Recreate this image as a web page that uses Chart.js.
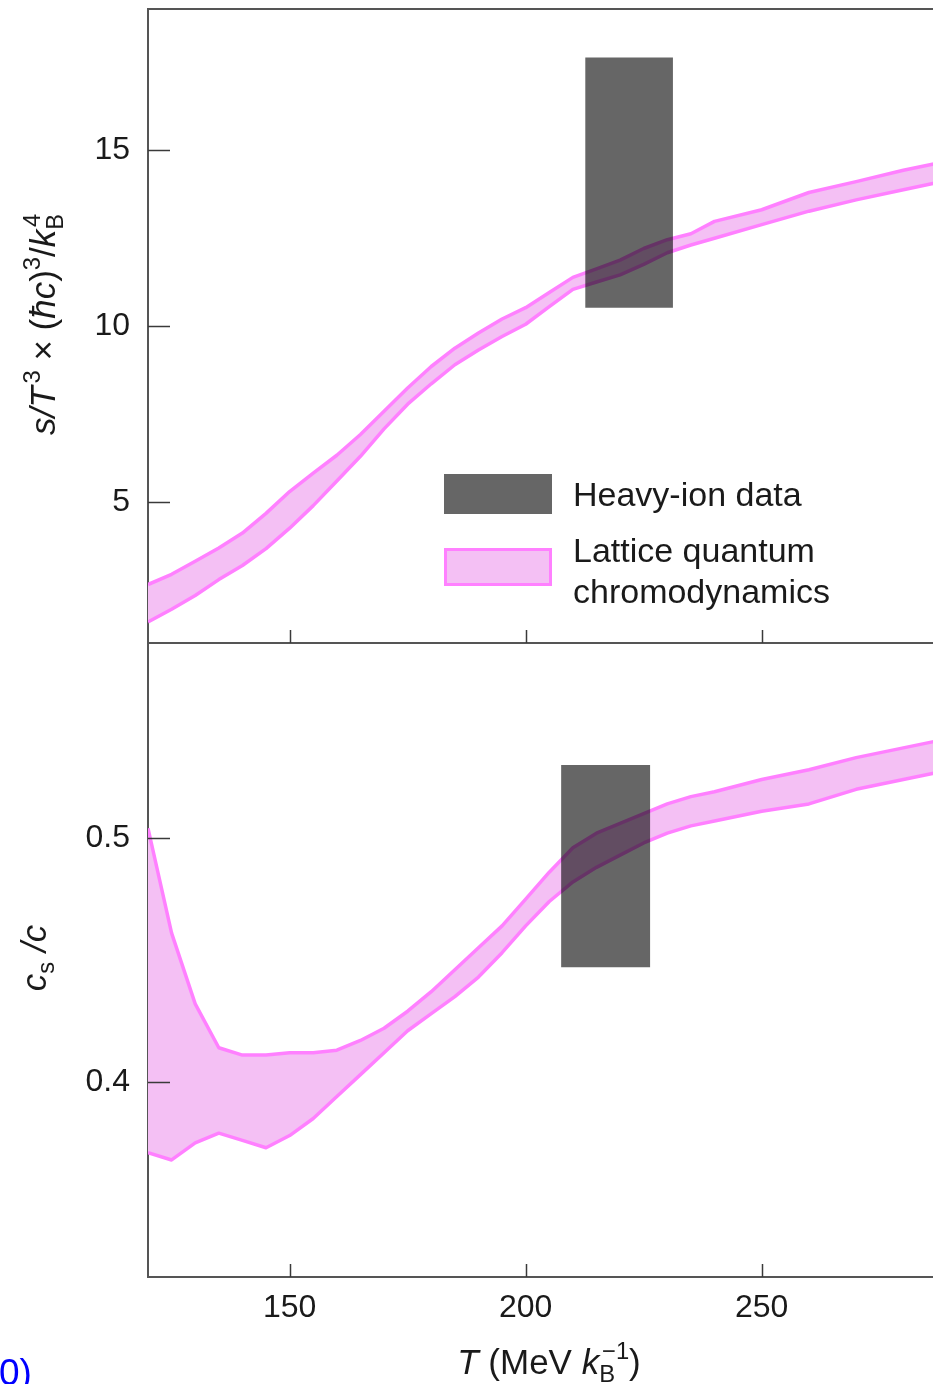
<!DOCTYPE html>
<html>
<head>
<meta charset="utf-8">
<script src="https://cdn.jsdelivr.net/npm/chart.js@4.4.1/dist/chart.umd.min.js"></script>
<style>
  html, body { margin: 0; padding: 0; background: #fff; overflow: hidden; }
  #wrap { position: relative; width: 933px; height: 1384px; overflow: hidden; }
  canvas { position: absolute; left: 0; }
  #top { top: 0; }
  #bottom { top: 640px; }
  #link { position: absolute; left: -1px; top: 1352px; font: 37px "Liberation Sans", Arial, sans-serif; color: #0000ff; }
</style>
</head>
<body>
<div id="wrap">
  <canvas id="top" width="960" height="650"></canvas>
  <canvas id="bottom" width="960" height="744"></canvas>
  <div id="link">0)</div>
</div>
<script>
// temperature grid (MeV / kB)
const temps = [120, 125, 130, 135, 140, 145, 150, 155, 160, 165, 170, 175, 180, 185, 190, 195,
  200, 205, 210, 215, 220, 225, 230, 235, 240, 250, 260, 270, 280, 290];

// lattice QCD band, s/T^3
const entropyUpper = [2.66, 2.95, 3.32, 3.7, 4.12, 4.68, 5.3, 5.82, 6.33, 6.92, 7.58, 8.24, 8.85, 9.37, 9.8, 10.2,
  10.52, 10.95, 11.38, 11.62, 11.87, 12.2, 12.45, 12.62, 12.97, 13.3, 13.79, 14.1, 14.42, 14.7];
const entropyLower = [1.6, 1.96, 2.35, 2.8, 3.2, 3.68, 4.26, 4.9, 5.6, 6.3, 7.08, 7.78, 8.36, 8.9, 9.32, 9.7,
  10.05, 10.55, 11.04, 11.25, 11.45, 11.75, 12.08, 12.3, 12.49, 12.88, 13.26, 13.58, 13.87, 14.15];

// lattice QCD band, cs/c
const soundUpper = [0.504, 0.461, 0.432, 0.414, 0.411, 0.411, 0.412, 0.412, 0.413, 0.417, 0.422, 0.429, 0.437, 0.446, 0.455, 0.464,
  0.475, 0.486, 0.496, 0.502, 0.506, 0.51, 0.514, 0.517, 0.519, 0.524, 0.528, 0.533, 0.537, 0.541];
const soundLower = [0.371, 0.368, 0.375, 0.379, 0.376, 0.373, 0.378, 0.385, 0.394, 0.403, 0.412, 0.421, 0.428, 0.435, 0.443, 0.453,
  0.464, 0.474, 0.482, 0.488, 0.493, 0.498, 0.502, 0.505, 0.507, 0.511, 0.514, 0.52, 0.524, 0.528];

// heavy-ion data boxes: [T min, T max] and [value min, value max]
const heavyIonEntropyT = [212.6, 231.2];
const heavyIonEntropy = [10.52, 17.62];
const heavyIonSoundT = [207.5, 226.4];
const heavyIonSound = [0.447, 0.53];

// ticks
const xTicks = [150, 200, 250];
const entropyTicks = [5, 10, 15];
const soundTicks = [0.4, 0.5];
const soundTickLabels = ['0.4', '0.5'];

const legendLabels = [['Heavy-ion data'], ['Lattice quantum', 'chromodynamics']];

const FONT = '"Liberation Sans", Arial, Helvetica, sans-serif';
const TEXT = '#1a1a1a';
const AXIS = '#555';
const PINK_FILL = '#f4c0f4';
const PINK_LINE = '#ff80ff';
const BOX_FILL = 'rgba(0,0,0,0.6)';

function pts(xs, ys) {
  return xs.map((x, i) => ({x: x, y: ys[i]}));
}

function setFont(ctx, size, italic) {
  ctx.font = (italic ? 'italic ' : '') + size + 'px ' + FONT;
}

// width of one rich-text part (main text + optional sub/sup)
function partWidth(ctx, p, size) {
  setFont(ctx, size, p.i);
  let w = ctx.measureText(p.t).width;
  let sw = 0;
  setFont(ctx, size * 0.68, false);
  if (p.sup) sw = Math.max(sw, ctx.measureText(p.sup).width);
  if (p.sub) sw = Math.max(sw, ctx.measureText(p.sub).width);
  if (sw && p.i) sw += size * 0.08;
  return w + sw;
}

function drawRich(ctx, parts, cx, y, size) {
  let total = 0;
  parts.forEach(p => total += partWidth(ctx, p, size));
  let x = cx - total / 2;
  ctx.fillStyle = TEXT;
  ctx.textBaseline = 'alphabetic';
  ctx.textAlign = 'left';
  parts.forEach(p => {
    setFont(ctx, size, p.i);
    ctx.fillText(p.t, x, y);
    x += ctx.measureText(p.t).width;
    setFont(ctx, size * 0.68, false);
    let sw = 0;
    const supX = x + (p.i ? size * 0.08 : 0);
    if (p.sup) { ctx.fillText(p.sup, supX, y - size * 0.42); sw = Math.max(sw, ctx.measureText(p.sup).width); }
    if (p.sub) { ctx.fillText(p.sub, x, y + size * 0.22); sw = Math.max(sw, ctx.measureText(p.sub).width); }
    if (sw && p.i) sw += size * 0.08;
    x += sw;
  });
}

const tickMarks = {
  id: 'tickMarks',
  afterDraw(chart) {
    const {ctx, chartArea: a, scales} = chart;
    ctx.save();
    ctx.strokeStyle = '#3a3a3a';
    ctx.lineWidth = 1.5;
    scales.y.ticks.forEach(t => {
      const y = Math.round(scales.y.getPixelForValue(t.value)) + 0.5;
      ctx.beginPath(); ctx.moveTo(a.left, y); ctx.lineTo(a.left + 22, y); ctx.stroke();
    });
    scales.x.ticks.forEach(t => {
      const x = Math.round(scales.x.getPixelForValue(t.value)) + 0.5;
      ctx.beginPath(); ctx.moveTo(x, a.bottom); ctx.lineTo(x, a.bottom - 13); ctx.stroke();
    });
    ctx.restore();
  }
};

const topDecor = {
  id: 'topDecor',
  afterDraw(chart) {
    const {ctx, chartArea: a} = chart;
    ctx.save();
    // top frame line
    ctx.strokeStyle = AXIS;
    ctx.lineWidth = 2;
    ctx.beginPath(); ctx.moveTo(a.left, a.top); ctx.lineTo(a.right, a.top); ctx.stroke();

    // legend
    ctx.fillStyle = BOX_FILL;
    ctx.fillRect(444, 474, 108, 40);
    ctx.fillStyle = PINK_FILL;
    ctx.fillRect(445.5, 549.5, 105, 35);
    ctx.strokeStyle = PINK_LINE;
    ctx.lineWidth = 3;
    ctx.strokeRect(445.5, 549.5, 105, 35);
    ctx.fillStyle = TEXT;
    setFont(ctx, 34, false);
    ctx.textBaseline = 'middle';
    ctx.textAlign = 'left';
    ctx.fillText(legendLabels[0][0], 573, 497);
    ctx.fillText(legendLabels[1][0], 573, 553);
    ctx.fillText(legendLabels[1][1], 573, 594);

    // y title
    ctx.translate(55, 323);
    ctx.rotate(-Math.PI / 2);
    drawRich(ctx, [
      {t: 's/T', i: true, sup: '3'},
      {t: ' \u00d7 ('},
      {t: '\u0127c', i: true},
      {t: ')', sup: '3'},
      {t: '/'},
      {t: 'k', i: true, sub: 'B', sup: '4'}
    ], 0, 0, 35);
    ctx.restore();
  }
};

const bottomDecor = {
  id: 'bottomDecor',
  afterDraw(chart) {
    const {ctx} = chart;
    ctx.save();
    drawRich(ctx, [
      {t: 'T', i: true},
      {t: ' (MeV '},
      {t: 'k', i: true, sub: 'B', sup: '\u22121'},
      {t: ')'}
    ], 549, 734, 35);
    ctx.translate(46, 318);
    ctx.rotate(-Math.PI / 2);
    drawRich(ctx, [
      {t: 'c', i: true, sub: 's'},
      {t: '\u2009/c', i: true}
    ], 0, 0, 35);
    ctx.restore();
  }
};

function bandDatasets(upper, lower, boxT, boxV) {
  return [
    {data: pts(boxT, [boxV[1], boxV[1]]), fill: '+1', backgroundColor: BOX_FILL,
      borderColor: 'rgba(0,0,0,0)', borderWidth: 0, pointRadius: 0, order: 0},
    {data: pts(boxT, [boxV[0], boxV[0]]), fill: false,
      borderColor: 'rgba(0,0,0,0)', borderWidth: 0, pointRadius: 0, order: 0},
    {data: pts(temps, upper), fill: false, borderColor: PINK_LINE, borderWidth: 3.5,
      pointRadius: 0, tension: 0, order: 1},
    {data: pts(temps, lower), fill: '-1', backgroundColor: PINK_FILL, borderColor: PINK_LINE,
      borderWidth: 3.5, pointRadius: 0, tension: 0, order: 1}
  ];
}

function xScale(showLabels, height) {
  return {
    type: 'linear', position: 'bottom', min: 120, max: 292,
    grid: {display: false, drawTicks: false},
    border: {display: true, color: AXIS, width: 2},
    ticks: {display: showLabels, color: TEXT, font: {family: FONT, size: 32}, padding: 12},
    afterBuildTicks: s => { s.ticks = xTicks.map(v => ({value: v})); },
    afterFit: s => { s.height = height; s.paddingLeft = 0; s.paddingRight = 0; }
  };
}

function yScale(min, max, ticks, fmt) {
  return {
    type: 'linear', min: min, max: max,
    grid: {display: false, drawTicks: false},
    border: {display: true, color: AXIS, width: 2},
    ticks: {color: TEXT, font: {family: FONT, size: 32}, padding: 18, callback: fmt},
    afterBuildTicks: s => { s.ticks = ticks.map(v => ({value: v})); },
    afterFit: s => { s.width = 148; s.paddingTop = 0; s.paddingBottom = 0; }
  };
}

const common = {
  responsive: false,
  animation: false,
  devicePixelRatio: 1,
  plugins: {legend: {display: false}, tooltip: {enabled: false}},
  elements: {line: {borderJoinStyle: 'round'}}
};

new Chart(document.getElementById('top'), {
  type: 'line',
  data: {datasets: bandDatasets(entropyUpper, entropyLower, heavyIonEntropyT, heavyIonEntropy)},
  options: Object.assign({}, common, {
    layout: {padding: {top: 9, left: 0, right: 0, bottom: 0}},
    scales: {
      x: xScale(false, 7),
      y: yScale(1, 19, entropyTicks, v => String(v))
    }
  }),
  plugins: [tickMarks, topDecor]
});

new Chart(document.getElementById('bottom'), {
  type: 'line',
  data: {datasets: bandDatasets(soundUpper, soundLower, heavyIonSoundT, heavyIonSound)},
  options: Object.assign({}, common, {
    layout: {padding: {top: 3, left: 0, right: 0, bottom: 0}},
    scales: {
      x: xScale(true, 107),
      y: yScale(0.32, 0.58, soundTicks, v => soundTickLabels[soundTicks.indexOf(v)] || '')
    }
  }),
  plugins: [tickMarks, bottomDecor]
});
</script>
</body>
</html>
